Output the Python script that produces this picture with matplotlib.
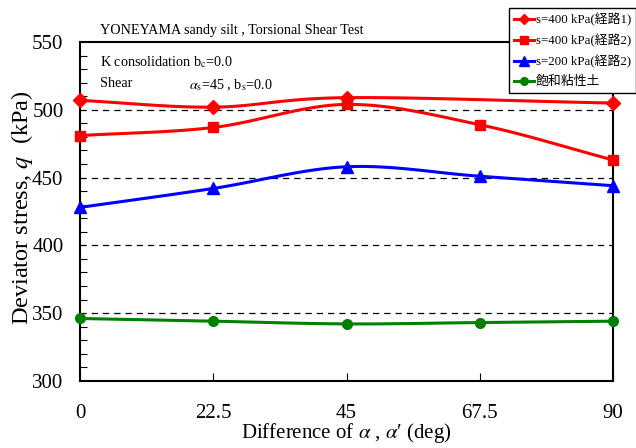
import matplotlib
matplotlib.use("Agg")
import matplotlib.pyplot as plt
from matplotlib.ticker import MultipleLocator
import numpy as np

plt.rcParams['font.family'] = ['Liberation Serif', 'Noto Sans CJK JP']
plt.rcParams['mathtext.fontset'] = 'stix'

# data
x_all = [0, 22.5, 45, 67.5, 90]
x_r1 = [0, 22.5, 45, 90]
q_r1 = [507, 502, 509, 505]          # s=400 kPa (経路1)
q_r2 = [481, 487, 504, 489, 463]     # s=400 kPa (経路2)
q_b2 = [428, 442, 458, 451, 444]     # s=200 kPa (経路2)
q_clay = [346, 344, 342, 343, 344]   # 飽和粘性土

labels = ['s=400 kPa(経路1)', 's=400 kPa(経路2)', 's=200 kPa(経路2)', '飽和粘性土']
colors = ['#ff0000', '#ff0000', '#0000ff', '#008000']
markers = ['D', 's', '^', 'o']


def smooth(x, y, n=30):
    # Catmull-Rom curve through the points (like Excel smoothed lines)
    x = np.asarray(x, float)
    y = np.asarray(y, float)
    px = np.concatenate([[2 * x[0] - x[1]], x, [2 * x[-1] - x[-2]]])
    py = np.concatenate([[2 * y[0] - y[1]], y, [2 * y[-1] - y[-2]]])
    xs, ys = [], []
    t = np.linspace(0, 1, n)
    for i in range(1, len(px) - 2):
        for p, out in ((px, xs), (py, ys)):
            p0, p1, p2, p3 = p[i - 1], p[i], p[i + 1], p[i + 2]
            out.extend(0.5 * (2 * p1 + (-p0 + p2) * t
                              + (2 * p0 - 5 * p1 + 4 * p2 - p3) * t ** 2
                              + (-p0 + 3 * p1 - 3 * p2 + p3) * t ** 3))
    return xs, ys


fig = plt.figure(figsize=(6.36, 4.48), dpi=100)
ax = fig.add_axes([0.126, 0.150, 0.838, 0.756])

series = [(x_r1, q_r1), (x_all, q_r2), (x_all, q_b2), (x_all, q_clay)]
msizes = [7, 7, 8, 7]
for (xs, ys), lab, c, m, ms in zip(series, labels, colors, markers, msizes):
    sx, sy = smooth(xs, ys)
    ax.plot(sx, sy, color=c, lw=2.2, zorder=3)
    ax.plot(xs, ys, ls='none', marker=m, color=c, ms=ms, zorder=4, clip_on=False)
    ax.plot([], [], color=c, lw=2.2, marker=m, ms=ms - 1.5, label=lab)

for g in [350, 400, 450, 500]:
    ax.axhline(g, color='black', lw=0.9, ls=(0, (5, 4)), zorder=1)

ax.set_xlim(0, 90)
ax.set_ylim(300, 550)
ax.set_xticks(x_all)
ax.set_xticklabels(['0', '22.5', '45', '67.5', '90'])
ax.yaxis.set_major_locator(MultipleLocator(50))
ax.yaxis.set_minor_locator(MultipleLocator(10))
ax.tick_params(axis='x', direction='in', length=6, width=0.8, pad=17, labelsize=15)
ax.tick_params(axis='y', which='major', direction='in', length=0, pad=12, labelsize=15)
ax.tick_params(axis='y', which='minor', direction='in', length=5, width=0.8)
for s in ax.spines.values():
    s.set_linewidth(1.5)

ax.set_xlabel("Difference of $\\alpha$ , $\\alpha$\u2032 (deg)", fontsize=15)
ax.xaxis.set_label_coords(0.5, -0.118)
ax.set_ylabel(r"Deviator stress, $q$  (kPa)", fontsize=17.5)
ax.yaxis.set_label_coords(-0.084, 0.51)

fig.text(0.157, 0.925, 'YONEYAMA sandy silt , Torsional Shear Test', fontsize=10.2)
ax.text(0.037, 0.965, r'K consolidation b$_\mathrm{c}$=0.0', transform=ax.transAxes,
        fontsize=10.2, va='top')
ax.text(0.037, 0.897, 'Shear', transform=ax.transAxes, fontsize=10.2, va='top')
ax.text(0.205, 0.897, r'$\alpha_\mathrm{s}$=45 , b$_\mathrm{s}$=0.0', transform=ax.transAxes,
        fontsize=10.2, va='top')

leg = ax.legend(loc='upper left', bbox_to_anchor=(0.805, 1.1), fontsize=9.3,
                frameon=True, fancybox=False, edgecolor='black', framealpha=1,
                handlelength=1.6, borderpad=0.35, borderaxespad=0,
                labelspacing=0.6, handletextpad=0.1)
leg.get_frame().set_linewidth(1.0)
leg.set_zorder(10)

fig.savefig('out.png', dpi=100)
